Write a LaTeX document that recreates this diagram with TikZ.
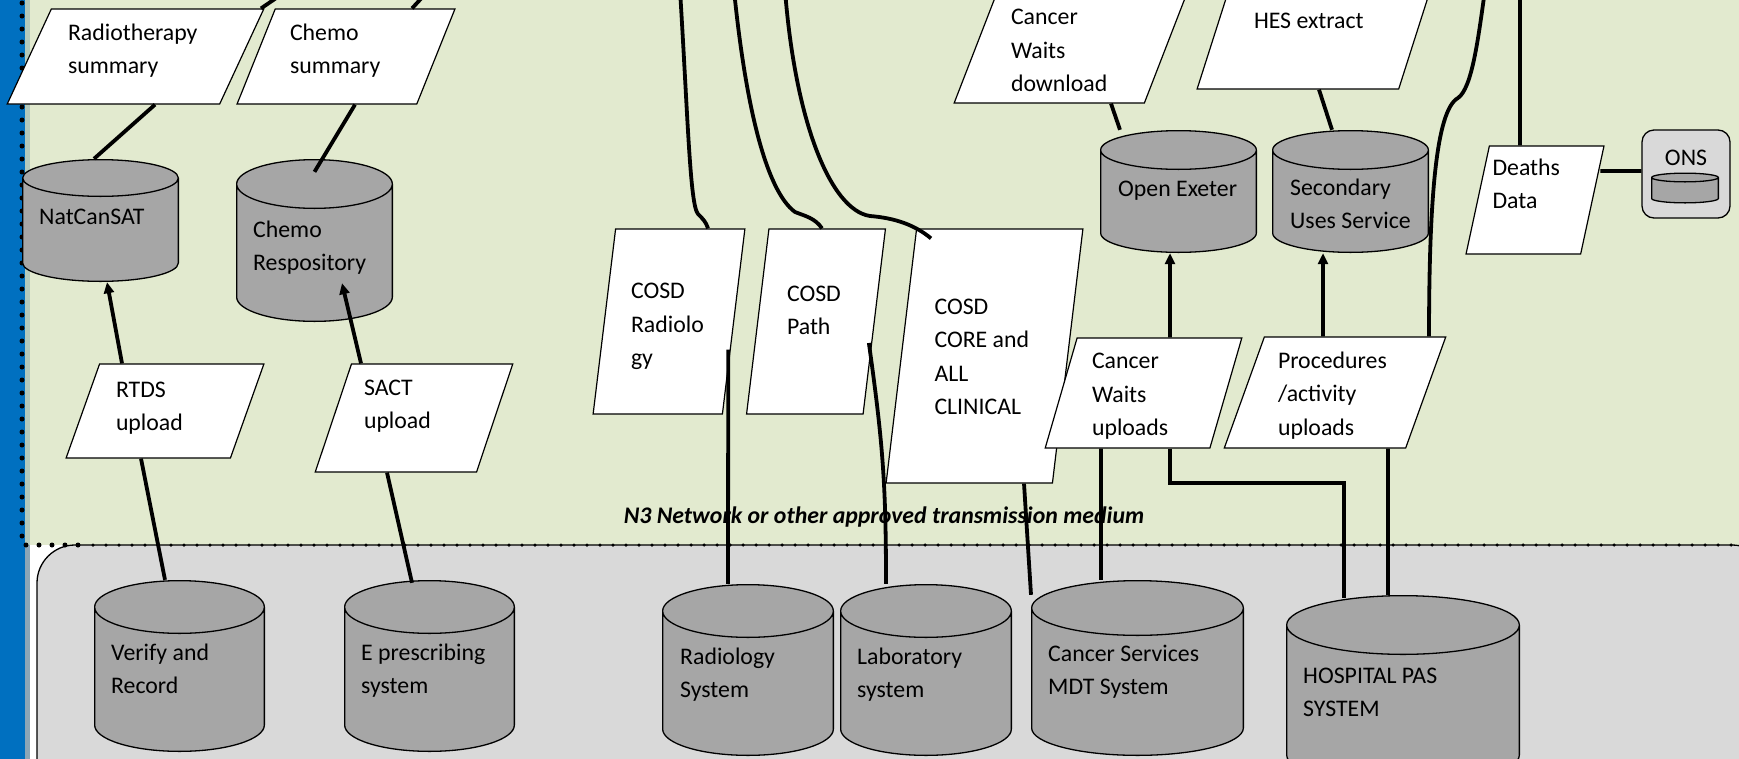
\documentclass[tikz,border=0pt]{standalone}
\usepackage{fontspec}
\setmainfont{Carlito}
\usetikzlibrary{
  arrows.meta,
  calc,
  positioning,
  shapes.geometric,
}
\definecolor{netgreen}{RGB}{226,234,207}
\definecolor{trustgrey}{RGB}{217,217,217}
\definecolor{storegrey}{RGB}{166,166,166}
\definecolor{sideblue}{RGB}{0,112,192}
\definecolor{sidelight}{RGB}{180,202,188}
\definecolor{sidedark}{RGB}{140,166,182}
\hyphenpenalty=10000
\tikzset{
  >={Triangle[length=11pt,width=10pt]},
  flow/.style={line width=3.8pt},
  dataflow/.style 2 args={trapezium, trapezium stretches=true,
    trapezium left angle=#1, trapezium right angle=#2,
    draw, fill=white, line width=1.2pt, inner sep=0pt, align=flush left,
    text height=17, font=\fontsize{23.8}{33.5}\selectfont},
  % upright drum, #1 = half height of the end ellipses
  store/.style={rectangle, inner sep=0pt,
    path picture={
      \draw[fill=storegrey, line width=1.3pt]
        let \p1=(path picture bounding box.south west), \p2=(path picture bounding box.north east),
            \n1={(\x2-\x1)/2-0.65pt} in
        (\x1+0.65pt,\y2-#1pt) -- (\x1+0.65pt,\y1+#1pt)
        arc[start angle=180, end angle=360, x radius=\n1, y radius=#1pt-0.65pt]
        -- (\x2-0.65pt,\y2-#1pt)
        arc[start angle=0, end angle=180, x radius=\n1, y radius=#1pt-0.65pt] -- cycle
        (\x1+0.65pt,\y2-#1pt) arc[start angle=180, end angle=360, x radius=\n1, y radius=#1pt-0.65pt];
    }},
  storetext/.style={anchor=north west, inner sep=0pt, text width=210, align=flush left,
    text height=17, font=\fontsize{23.8}{33.5}\selectfont},
}

\begin{document}
\begin{tikzpicture}[x=1pt,y=1pt]

  \useasboundingbox (0,0) rectangle (1739,-758);

  % zones
  \fill[white] (0,10) rectangle (1770,-800);
  \fill[netgreen] (30,10) rectangle (1770,-545);
  \draw[fill=trustgrey, line width=1.3pt, rounded corners=38] (37,-820) rectangle (1770,-545);
  \fill[sideblue] (0,10) rectangle (25,-800);
  \fill[sidelight] (25,10) rectangle (30,-545);
  \fill[sidedark] (25,-545) rectangle (30,-800);
  \draw[line width=5pt, line cap=round, dash pattern=on 0pt off 13pt] (22,10) -- (22,-545) -- (80,-545);
  \draw[line width=3.5pt, line cap=round, dash pattern=on 0pt off 13pt] (93,-545) -- (1733,-545);
  \node[font=\bfseries\itshape\fontsize{23.8}{28}\selectfont] (n3label) at (884,-517) {N3 Network or other approved transmission medium};

  % data flows
  \node[dataflow={62}{118}, minimum width=257, minimum height=95, text width=135, text depth=49.5] (radsum) at (135.5,-56.5) {Radiotherapy\\summary};
  \node[dataflow={65.6}{114.4}, minimum width=218, minimum height=95, text width=112, text depth=49.5] (chemosum) at (346,-56.5) {Chemo\\summary};
  \node[dataflow={68}{112}, minimum width=198, minimum height=94, text width=98, text depth=45] (rtds) at (165,-411) {RTDS\\upload};
  \node[dataflow={70.1}{109.9}, minimum width=198, minimum height=108, text width=100, text depth=63] (sact) at (414,-418) {SACT\\upload};
  \node[dataflow={78.7}{101.3}, minimum width=152, minimum height=185, text width=76, text depth=63] (cosdrad) at (669,-321.5) {COSD\\Radiolo\\gy};
  \node[dataflow={79.6}{100.4}, minimum width=140, minimum height=185, text width=58, text depth=58] (cosdpath) at (816,-321.5) {COSD\\Path};
  \node[dataflow={79.2}{100.8}, minimum width=197, minimum height=254, text width=100, text depth=100.5] (cosdcore) at (984.5,-356) {COSD\\CORE and\\ALL\\CLINICAL};
  \node[dataflow={68.6}{111.4}, minimum width=232, minimum height=107, text width=118, text depth=67] (cwdown) at (1070,-49.5) {Cancer\\Waits\\download};
  \node[dataflow={64.7}{115.3}, minimum width=235, minimum height=104, text width=121, text depth=33.5] (hes) at (1314.5,-37) {HES extract};
  \node[dataflow={73.3}{106.7}, minimum width=197, minimum height=110, text width=103, text depth=65.4] (cwup) at (1143.5,-393) {Cancer\\Waits\\uploads};
  \node[dataflow={68.6}{111.4}, minimum width=222, minimum height=111, text width=114, text depth=65.4] (procup) at (1335,-392.5) {Procedures\\/activity\\uploads};
  \node[dataflow={75.5}{104.5}, minimum width=138, minimum height=108, text width=85, text depth=67] (deaths) at (1535,-200) {Deaths\\Data};

  % stores
  \node[store=19, minimum width=157, minimum height=123] (natcan) at (100.5,-220.5) {};
  \node[store=25, minimum width=157, minimum height=163] (chemorepo) at (314.5,-240.5) {};
  \node[store=20, minimum width=157, minimum height=123] (openexeter) at (1178.5,-191.5) {};
  \node[store=20, minimum width=157, minimum height=123] (sus) at (1350.5,-191.5) {};
  \node[store=27, minimum width=171, minimum height=172] (verify) at (179.5,-666) {};
  \node[store=27, minimum width=171, minimum height=172] (epres) at (429.5,-666) {};
  \node[store=27, minimum width=172, minimum height=172] (radiology) at (748,-670) {};
  \node[store=27, minimum width=172, minimum height=172] (laboratory) at (926,-670) {};
  \node[store=28, minimum width=213, minimum height=176] (mdt) at (1137.5,-668) {};
  \node[store=30, minimum width=234, minimum height=190] (hospital) at (1403,-690) {};

  \node[storetext] (natcantext) at ([xshift=-61.5,yshift=-48]natcan.north) {NatCanSAT};
  \node[storetext] (chemorepotext) at ([xshift=-61.5,yshift=-61]chemorepo.north) {Chemo\\Respository};
  \node[storetext] (openexetertext) at ([xshift=-60.5,yshift=-49]openexeter.north) {Open Exeter};
  \node[storetext] (sustext) at ([xshift=-60.5,yshift=-48]sus.north) {Secondary\\Uses Service};
  \node[storetext] (verifytext) at ([xshift=-68.5,yshift=-63]verify.north) {Verify and\\Record};
  \node[storetext] (eprestext) at ([xshift=-68.5,yshift=-63]epres.north) {E prescribing\\system};
  \node[storetext] (radiologytext) at ([xshift=-68,yshift=-63]radiology.north) {Radiology\\System};
  \node[storetext] (laboratorytext) at ([xshift=-69,yshift=-63]laboratory.north) {Laboratory\\system};
  \node[storetext] (mdttext) at ([xshift=-89.5,yshift=-64]mdt.north) {Cancer Services\\MDT System};
  \node[storetext] (hospitaltext) at ([xshift=-100,yshift=-71]hospital.north) {HOSPITAL PAS\\SYSTEM};

  \node[rectangle, rounded corners=12, draw, fill=trustgrey, line width=1.3pt, inner sep=0pt,
        minimum width=88, text height=35.5, text depth=52.5,
        font=\fontsize{23.8}{28}\selectfont] (ons) at (1686,-174) {ONS};
  \node[store=5, minimum width=68, minimum height=31] (onsdb) at (1685,-188) {};

  % free ends off the top
  \coordinate (radout) at (288,10);
  \coordinate (chemoout) at (429,10);
  \coordinate (radfeed) at (680,10);
  \coordinate (pathfeed) at (734,10);
  \coordinate (corefeed) at (785,10);
  \coordinate (procout) at (1485,10);
  \coordinate (deathsfeed) at (1520,10);

  % connectors
  \draw[flow] ([xshift=125.5]radsum.north) -- (radout);
  \draw[flow] ([xshift=66]chemosum.north) -- (chemoout);
  \draw[flow] ([xshift=19.5]radsum.south) -- ([xshift=-6.5]natcan.north);
  \draw[flow] ([xshift=9]chemosum.south) -- ([yshift=-13]chemorepo.north);
  \draw[flow,->] ([xshift=-43]rtds.north) -- ([xshift=6.5]natcan.south);
  \draw[flow,->] ([xshift=-53]sact.north) -- ([xshift=27.5,yshift=39]chemorepo.south);
  \draw[flow] ([xshift=-24]rtds.south) -- ([xshift=-14.5]verify.north);
  \draw[flow] ([xshift=-27]sact.south) -- ([xshift=-17.5,yshift=-3]epres.north);

  \draw[flow] (radfeed) .. controls (688,-120) and (690,-205) .. (698,-214)
    .. controls (703,-219) and (706,-222) .. ([xshift=39]cosdrad.north);
  \draw[flow] (pathfeed) .. controls (745,-100) and (765,-190) .. (795,-212)
    .. controls (805,-216) and (815,-218) .. ([xshift=6]cosdpath.north);
  \draw[flow] (corefeed) .. controls (795,-120) and (830,-210) .. (870,-216)
    .. controls (895,-218) and (915,-225) .. ([xshift=-53.5,yshift=-10]cosdcore.north);

  \draw[flow] ([xshift=-6,yshift=-28]cosdrad.east) -- ([xshift=-20]radiology.north);
  \draw[flow] ([xshift=-6,yshift=-21.5]cosdpath.east) .. controls +(14,-100) and +(0,100) .. ([xshift=-40]laboratory.north);
  \draw[flow] ([xshift=39.5]cosdcore.south) -- ([xshift=-106.5,yshift=-15]mdt.north);

  \draw[flow] ([xshift=41]cwdown.south) -- ([xshift=-58.5]openexeter.north);
  \draw[flow] ([xshift=4.5]hes.south) -- ([xshift=-18.5]sus.north);
  \draw[flow,->] ([xshift=26.5]cwup.north) -- ([xshift=-8.5]openexeter.south);
  \draw[flow,->] ([xshift=-12]procup.north) -- ([xshift=-27.5]sus.south);
  \draw[flow] ([xshift=94]procup.north) .. controls (1429,-200) and (1436,-110) .. (1458,-98)
    .. controls (1472,-88) and (1478,-40) .. (procout);
  \draw[flow] ([xshift=-15]deaths.north) -- (deathsfeed);
  \draw[flow] ([xshift=7.5,yshift=29]deaths.east) -- ([yshift=3]ons.west);

  \draw[flow] ([xshift=26.5]cwup.south) -- ++(0,-34) -| ([xshift=-59,yshift=-3]hospital.north);
  \draw[flow] ([xshift=53]procup.south) -- ([xshift=-15]hospital.north);
  \draw[flow] ([xshift=-42.5]cwup.south) -- ([xshift=-36.5]mdt.north);

\end{tikzpicture}
\end{document}
